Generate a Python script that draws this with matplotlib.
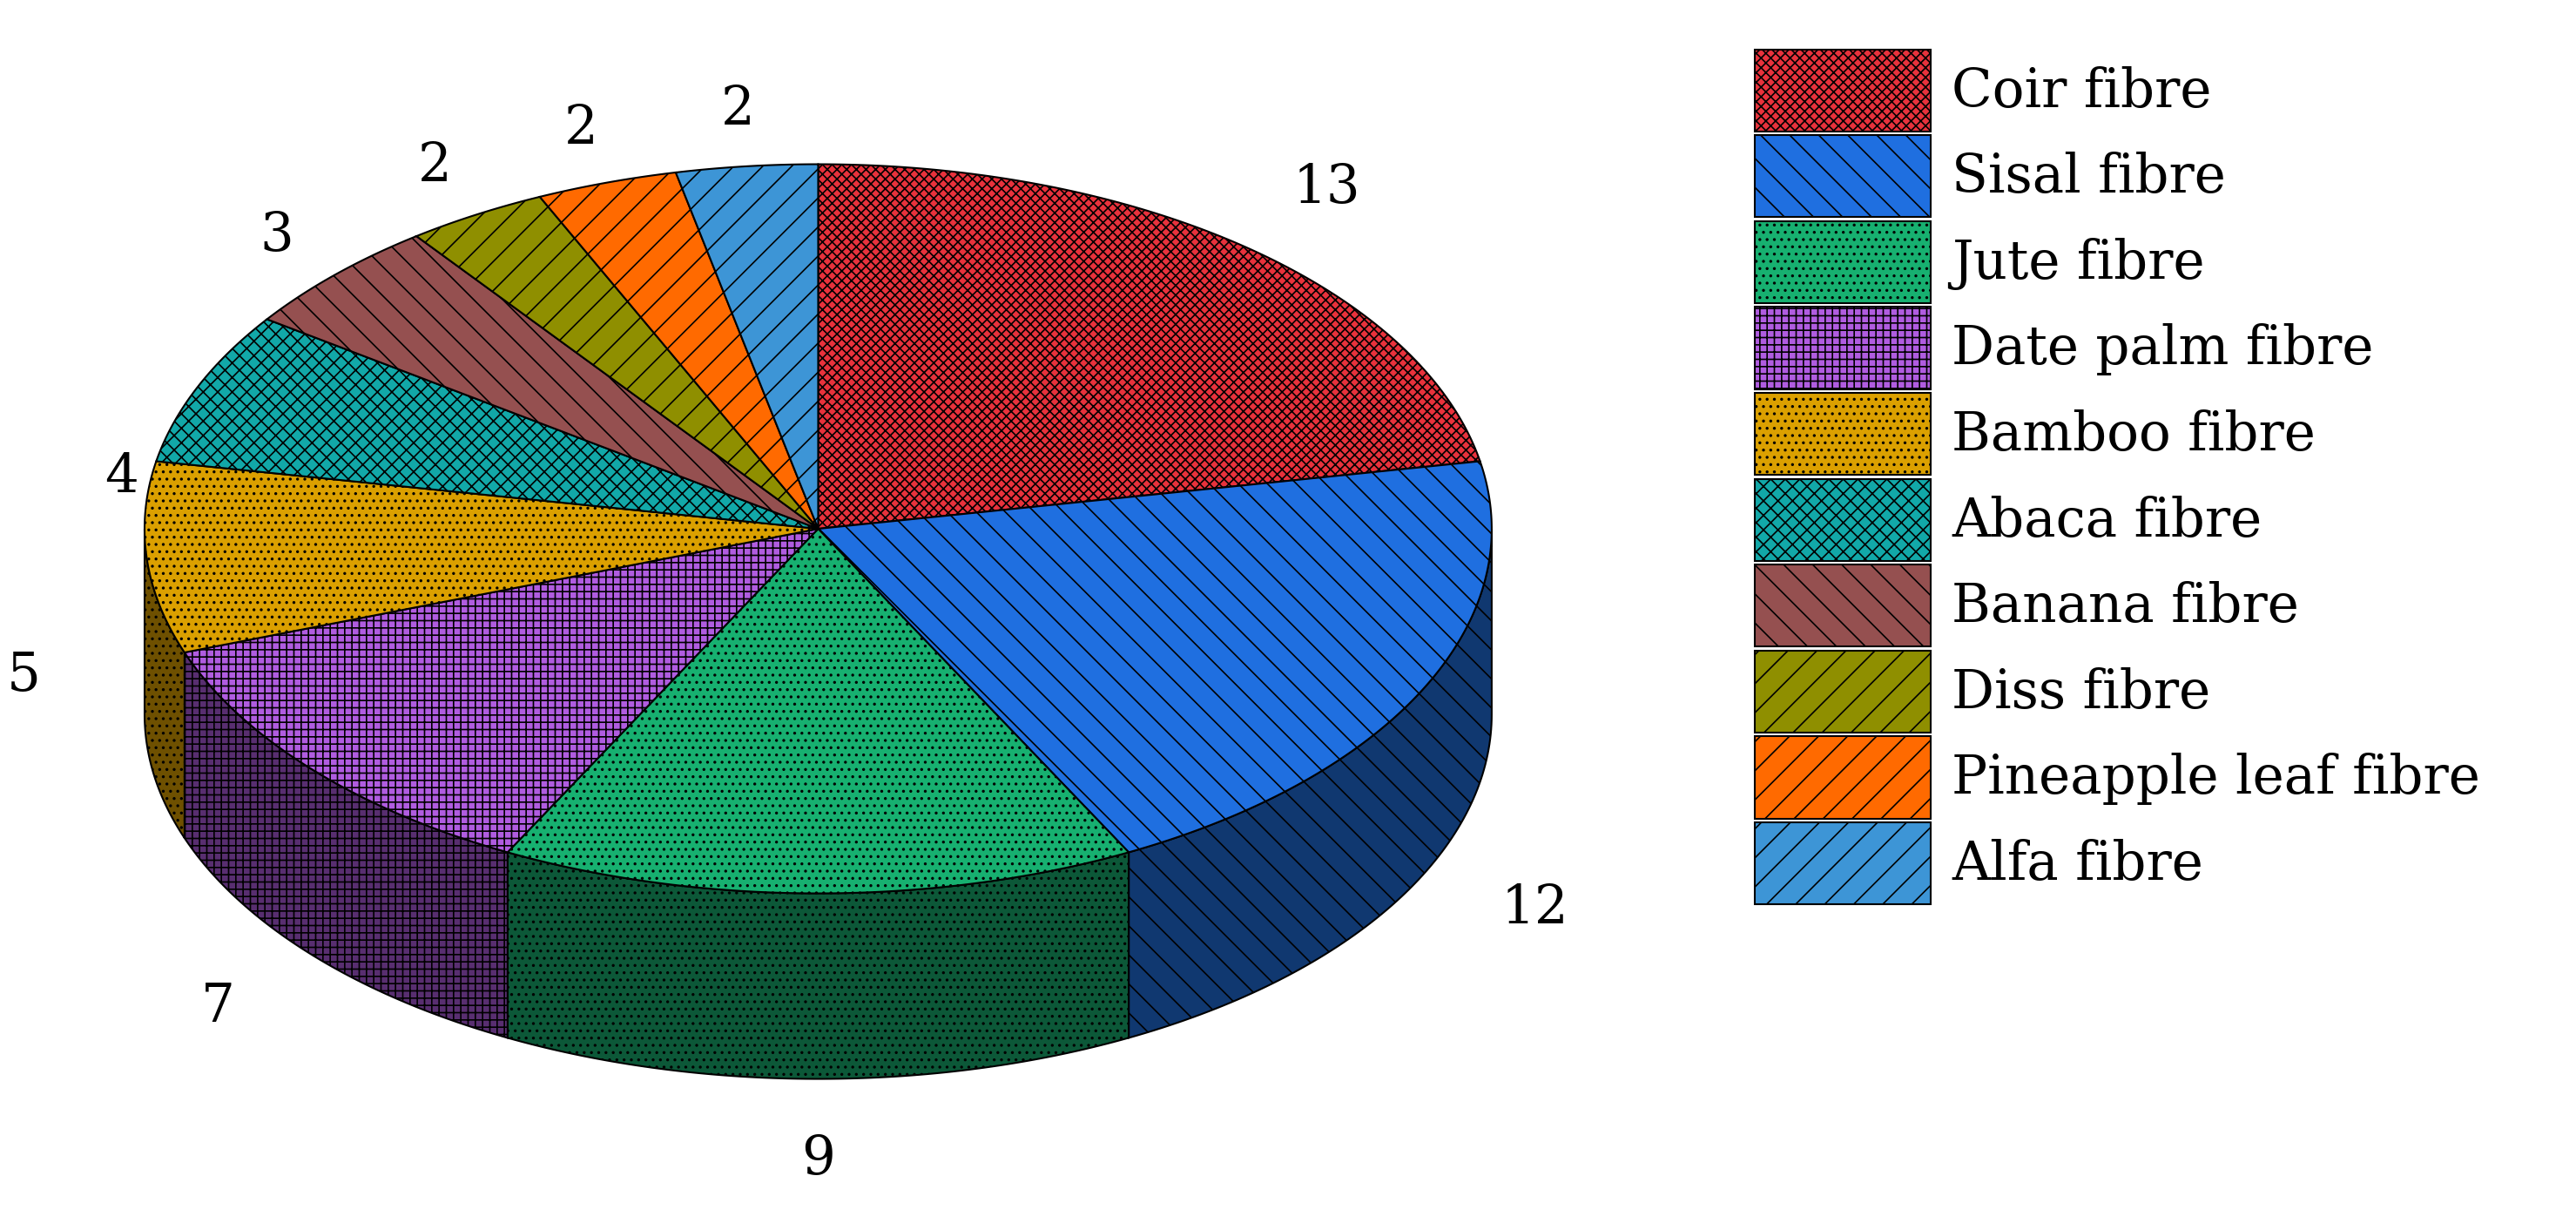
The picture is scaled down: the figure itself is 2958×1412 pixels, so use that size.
import numpy as np
import matplotlib
matplotlib.use("Agg")
import matplotlib.pyplot as plt
from matplotlib.patches import Polygon, Rectangle
from matplotlib.colors import to_rgb

categories = ["Coir fibre", "Sisal fibre", "Jute fibre", "Date palm fibre", "Bamboo fibre",
              "Abaca fibre", "Banana fibre", "Diss fibre", "Pineapple leaf fibre", "Alfa fibre"]
values = [13, 12, 9, 7, 5, 4, 3, 2, 2, 2]
colors = ["#e8323c", "#1f6fe0", "#17b070", "#b05ce0", "#dba000",
          "#12a8a8", "#955050", "#8f8f00", "#ff6a00", "#3d95d6"]
hatches = ["xxx", "\\", "..", "++", "..", "xx", "\\", "/", "/", "/"]

plt.rcParams['hatch.linewidth'] = 1.2
fig = plt.figure(figsize=(29.58, 14.12), dpi=100)
ax = fig.add_axes([0, 0, 1, 1])
ax.set_xlim(0, 1568); ax.set_ylim(749, 0); ax.axis('off')

cx, cy, rx, ry, depth = 498, 322, 410, 222, 113
tot = sum(values)
bounds = np.concatenate([[0], np.cumsum(values)]) / tot * 360

def pt(t, d=0):
    r = np.radians(t)
    return cx + rx*np.sin(r), cy - ry*np.cos(r) + d

def dark(c, f=0.5):
    return tuple(v*f for v in to_rgb(c))

for i in range(len(values)):
    a, b = max(bounds[i], 90), min(bounds[i+1], 270)
    if a >= b:
        continue
    ts = np.linspace(a, b, 80)
    top = [pt(t) for t in ts]
    bot = [pt(t, depth) for t in ts[::-1]]
    ax.add_patch(Polygon(top + bot, closed=True, facecolor=dark(colors[i]),
                         edgecolor='black', hatch=hatches[i], lw=1.5))
for i in range(len(values)):
    ts = np.linspace(bounds[i], bounds[i+1], 120)
    ax.add_patch(Polygon([(cx, cy)] + [pt(t) for t in ts], closed=True,
                         facecolor=colors[i], edgecolor='black', hatch=hatches[i], lw=1.5))

font = dict(family='DejaVu Serif', fontsize=44)
for i, v in enumerate(values):
    m = (bounds[i] + bounds[i+1]) / 2
    r = np.radians(m)
    d = depth if 90 < m < 270 else 0
    if 240 < m < 300:
        d = depth * 0.6
    k = 1.1 if m > 280 else 1.16
    x = cx + k*1.02*rx*np.sin(r)
    y = cy - k*1.05*ry*np.cos(r) + d
    ax.text(x, y, str(v), ha='center', va='center', **font)

for i, c in enumerate(categories):
    y0 = 30 + i*52.3
    ax.add_patch(Rectangle((1068, y0), 107, 50, facecolor=colors[i], edgecolor='black',
                           hatch=hatches[i], lw=1.5))
    ax.text(1188, y0 + 26, c, ha='left', va='center', **font)

fig.savefig("out.png", dpi=100)
